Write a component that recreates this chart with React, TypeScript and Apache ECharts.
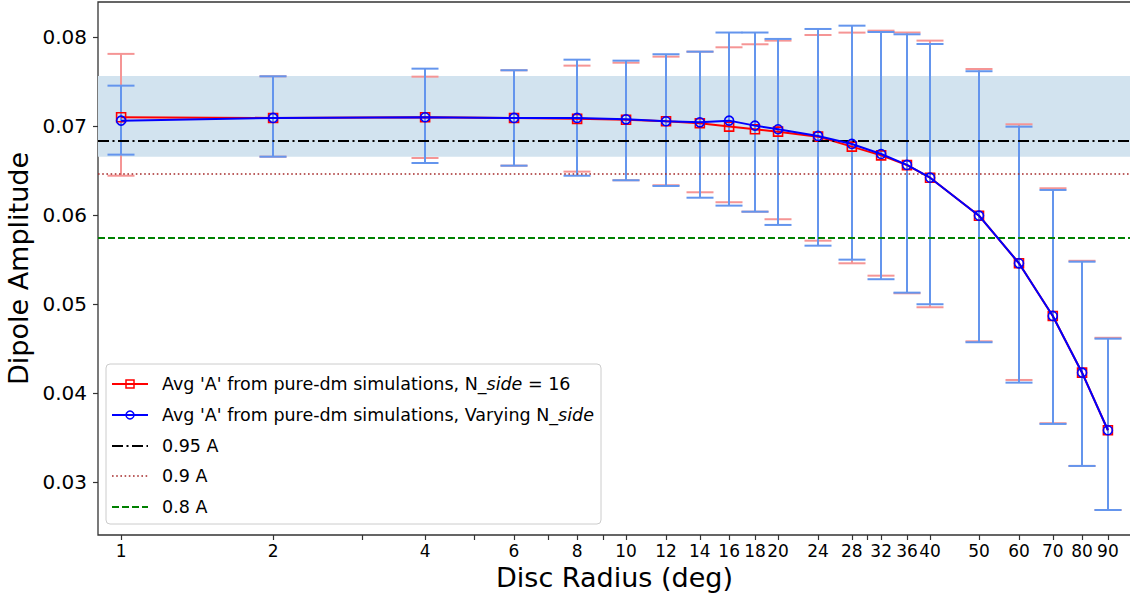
import React, { useEffect, useRef } from "react";
import * as echarts from "echarts";

const radii = [1, 2, 4, 6, 8, 10, 12, 14, 16, 18, 20, 24, 28, 32, 36, 40, 50, 60, 70, 80, 90];

const redValues = [0.07098, 0.0709, 0.07098, 0.0709, 0.0708, 0.0707, 0.07053, 0.0703, 0.06993, 0.06963, 0.06936, 0.0688, 0.06768, 0.0667, 0.0656, 0.06419, 0.05992, 0.05457, 0.04865, 0.04228, 0.03581];
const redLow = [0.06441, 0.06655, 0.0664, 0.06554, 0.06487, 0.0639, 0.06334, 0.06255, 0.06143, 0.06037, 0.05952, 0.05711, 0.05457, 0.05318, 0.0512, 0.04963, 0.0458, 0.04146, 0.0366, 0.0318, 0.02685];
const redHigh = [0.0781, 0.07558, 0.07554, 0.07626, 0.07678, 0.07711, 0.07779, 0.07835, 0.07884, 0.07918, 0.07959, 0.08022, 0.08049, 0.08071, 0.0805, 0.07959, 0.0764, 0.07019, 0.063, 0.05485, 0.0462];

const blueValues = [0.0706, 0.0709, 0.07098, 0.0709, 0.0709, 0.07075, 0.07053, 0.07041, 0.0706, 0.07004, 0.06963, 0.06888, 0.06798, 0.06685, 0.06562, 0.06419, 0.05992, 0.05457, 0.04865, 0.04228, 0.03581];
const blueLow = [0.06678, 0.06655, 0.06584, 0.06554, 0.06441, 0.0639, 0.06326, 0.06194, 0.06105, 0.06037, 0.05888, 0.05655, 0.05498, 0.05278, 0.05127, 0.04997, 0.0457, 0.04116, 0.03652, 0.0318, 0.02685];
const blueHigh = [0.07453, 0.07558, 0.07644, 0.07626, 0.07745, 0.07734, 0.07806, 0.07835, 0.0805, 0.0805, 0.07978, 0.0809, 0.08127, 0.08056, 0.0803, 0.07921, 0.07615, 0.06992, 0.06281, 0.05475, 0.0461];

const bandLow = 0.06655;
const bandHigh = 0.07562;
const line95 = 0.06831;
const line90 = 0.06468;
const line80 = 0.05745;

const xTickLabels = [1, 2, 4, 6, 8, 10, 12, 14, 16, 18, 20, 24, 28, 32, 36, 40, 50, 60, 70, 80, 90];
const xMinorTicks = [3, 5, 7, 9, 30];
const yTickLabels = [0.03, 0.04, 0.05, 0.06, 0.07, 0.08];

const legendLabels = [
  "Avg 'A' from pure-dm simulations, N_{it|side} = 16",
  "Avg 'A' from pure-dm simulations, Varying N_{it|side}",
  "0.95 A",
  "0.9 A",
  "0.8 A",
];

const FONT = "DejaVu Sans";
const RED = "#ff0000";
const BLUE = "#0000ff";
const RED_ERR = "#f59595";
const BLUE_ERR = "#6495ed";

const lg = (v: number) => Math.log10(v);

function errRender(color: string) {
  return (params: any, api: any) => {
    const x = api.value(0);
    const lo = api.value(1);
    const hi = api.value(2);
    const pLo = api.coord([x, lo]);
    const pHi = api.coord([x, hi]);
    const cx = Math.round(pLo[0]);
    const hw = 13.5;
    const style = { stroke: color, lineWidth: 2, fill: null };
    return {
      type: "group",
      children: [
        { type: "line", shape: { x1: cx, y1: pLo[1], x2: cx, y2: pHi[1] }, style },
        { type: "line", shape: { x1: cx - hw, y1: pLo[1], x2: cx + hw, y2: pLo[1] }, style },
        { type: "line", shape: { x1: cx - hw, y1: pHi[1], x2: cx + hw, y2: pHi[1] }, style },
      ],
    };
  };
}

export default function App() {
  const ref = useRef<HTMLDivElement>(null);
  useEffect(() => {
    if (!ref.current) return;
    const chart = echarts.init(ref.current, null, { renderer: "svg" });

    const legX = 106;
    const legY = 364;
    const rowY = [384, 415, 446, 476, 507];
    const hx1 = 112;
    const hx2 = 148;
    const tx = 162;
    const legendChildren: any[] = [
      {
        type: "rect",
        shape: { x: legX, y: legY, width: 495, height: 160, r: 4 },
        style: { fill: "rgba(255,255,255,0.8)", stroke: "#cccccc", lineWidth: 1 },
      },
      { type: "line", shape: { x1: hx1, y1: rowY[0], x2: hx2, y2: rowY[0] }, style: { stroke: RED, lineWidth: 2 } },
      { type: "rect", shape: { x: 126, y: rowY[0] - 4, width: 8, height: 8 }, style: { fill: "none", stroke: RED, lineWidth: 1.5 } },
      { type: "line", shape: { x1: hx1, y1: rowY[1], x2: hx2, y2: rowY[1] }, style: { stroke: BLUE, lineWidth: 2 } },
      { type: "circle", shape: { cx: 130, cy: rowY[1], r: 4 }, style: { fill: "none", stroke: BLUE, lineWidth: 1.5 } },
      { type: "line", shape: { x1: hx1, y1: rowY[2], x2: hx2, y2: rowY[2] }, style: { stroke: "#000", lineWidth: 2, lineDash: [11, 3.5, 2, 3.5] } },
      { type: "line", shape: { x1: hx1, y1: rowY[3], x2: hx2, y2: rowY[3] }, style: { stroke: "#a52a2a", lineWidth: 1.6, lineDash: [1.6, 2.6] } },
      { type: "line", shape: { x1: hx1, y1: rowY[4], x2: hx2, y2: rowY[4] }, style: { stroke: "#008000", lineWidth: 2, lineDash: [7, 3] } },
    ];
    legendLabels.forEach((t, i) => {
      legendChildren.push({
        type: "text",
        x: tx,
        y: rowY[i],
        style: {
          text: t,
          fontFamily: FONT,
          fontSize: 17.5,
          fill: "#000",
          verticalAlign: "middle",
          rich: { it: { fontStyle: "italic", fontFamily: FONT, fontSize: 17.5, fill: "#000" } },
        },
      });
    });

    const option: any = {
      animation: false,
      grid: {
        left: 98,
        right: -1,
        top: 2,
        bottom: 64,
        containLabel: false,
        outerBoundsMode: "none",
        show: true,
        borderColor: "#333",
        borderWidth: 1.3,
        backgroundColor: "transparent",
      },
      xAxis: {
        type: "value",
        min: lg(0.9),
        max: 2,
        name: "Disc Radius (deg)",
        nameLocation: "middle",
        nameGap: 28,
        nameTextStyle: { fontFamily: FONT, fontSize: 27, color: "#000" },
        axisLine: { show: false, onZero: false },
        splitLine: { show: false },
        axisTick: {
          show: true,
          length: 5,
          lineStyle: { color: "#333", width: 1.2 },
          customValues: [...xTickLabels, ...xMinorTicks].map(lg),
        },
        axisLabel: {
          customValues: xTickLabels.map(lg),
          formatter: (v: number) => String(Math.round(Math.pow(10, v))),
          fontFamily: FONT,
          fontSize: 17,
          color: "#000",
          margin: 7,
        },
      },
      yAxis: {
        type: "value",
        min: 0.02404,
        max: 0.08393,
        name: "Dipole Amplitude",
        nameLocation: "middle",
        nameGap: 54,
        nameTextStyle: { fontFamily: FONT, fontSize: 27, color: "#000" },
        axisLine: { show: false, onZero: false },
        splitLine: { show: false },
        axisTick: {
          show: true,
          length: 5,
          lineStyle: { color: "#333", width: 1.2 },
          customValues: yTickLabels,
        },
        axisLabel: {
          customValues: yTickLabels,
          formatter: (v: number) => v.toFixed(2),
          fontFamily: FONT,
          fontSize: 20,
          color: "#000",
          margin: 11,
        },
      },
      graphic: [{ type: "group", z: 100, children: legendChildren }],
      series: [
        {
          type: "line",
          name: "band",
          data: [],
          z: 1,
          silent: true,
          markArea: {
            silent: true,
            itemStyle: { color: "#d2e3ef" },
            data: [[{ yAxis: bandLow }, { yAxis: bandHigh }]],
          },
          markLine: {
            silent: true,
            symbol: "none",
            precision: 6,
            label: { show: false },
            data: [
              { yAxis: line95, lineStyle: { color: "#000", width: 2, type: [11, 3.5, 2, 3.5] } },
              { yAxis: line90, lineStyle: { color: "#a52a2a", width: 1.6, type: [1.6, 2.6] } },
              { yAxis: line80, lineStyle: { color: "#008000", width: 2, type: [7, 3] } },
            ],
          },
        },
        {
          type: "custom",
          name: "redErr",
          z: 2,
          renderItem: errRender(RED_ERR),
          encode: { x: 0, y: [1, 2] },
          data: radii.map((r, i) => [lg(r), redLow[i], redHigh[i]]),
        },
        {
          type: "custom",
          name: "blueErr",
          z: 3,
          renderItem: errRender(BLUE_ERR),
          encode: { x: 0, y: [1, 2] },
          data: radii.map((r, i) => [lg(r), blueLow[i], blueHigh[i]]),
        },
        {
          type: "line",
          name: "red",
          z: 4,
          data: radii.map((r, i) => [lg(r), redValues[i]]),
          symbol: "rect",
          symbolSize: 9,
          showAllSymbol: true,
          lineStyle: { color: RED, width: 2 },
          itemStyle: { color: "rgba(0,0,0,0)", borderColor: RED, borderWidth: 1.6 },
        },
        {
          type: "line",
          name: "blue",
          z: 5,
          data: radii.map((r, i) => [lg(r), blueValues[i]]),
          symbol: "circle",
          symbolSize: 9,
          showAllSymbol: true,
          lineStyle: { color: BLUE, width: 2 },
          itemStyle: { color: "rgba(0,0,0,0)", borderColor: BLUE, borderWidth: 1.6 },
        },
      ],
    };
    chart.setOption(option);
    return () => chart.dispose();
  }, []);
  return (
    <div
      ref={ref}
      style={{ position: "absolute", left: 0, top: 0, width: 1130, height: 599, background: "#fff" }}
    />
  );
}
